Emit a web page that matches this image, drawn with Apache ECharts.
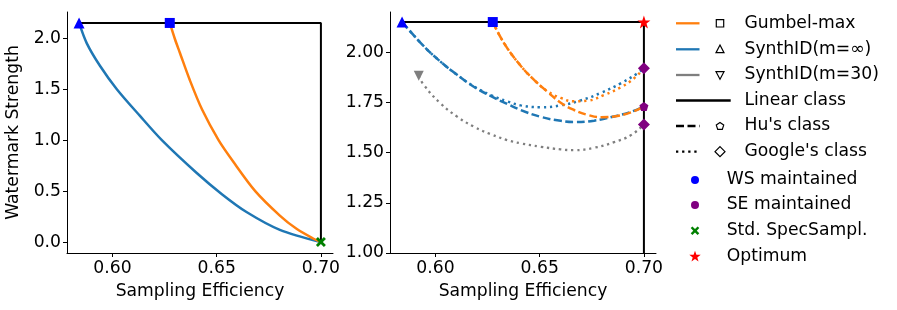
<!DOCTYPE html>
<html><head><meta charset="utf-8">
<script src="https://cdn.jsdelivr.net/npm/echarts@6/dist/echarts.min.js"></script>
<style>html,body{margin:0;padding:0;background:#fff}#c{width:897px;height:310px}</style>
</head><body><div id="c"></div>
<script>
// ---------- data ----------
const xTicks = [0.60, 0.65, 0.70];
const yTicksLeft = [0, 0.5, 1.0, 1.5, 2.0];
const yTicksRight = [1.00, 1.25, 1.50, 1.75, 2.00];

const linearClass = [[0.584, 2.15], [0.70, 2.15], [0.70, 0]];

const leftSynthID = [[0.584,2.15],[0.5877,1.95],[0.594,1.73],[0.6021,1.50],[0.6131,1.24],[0.6237,1.00],[0.6403,0.68],[0.6525,0.47],[0.6643,0.295],[0.6803,0.12],[0.70,0]];
const leftGumbel = [[0.6275,2.15],[0.6300,1.99],[0.6323,1.86],[0.6371,1.59],[0.6430,1.30],[0.6509,1.00],[0.6579,0.79],[0.6685,0.50],[0.6803,0.26],[0.6883,0.13],[0.6963,0.035],[0.70,0]];

const huSynthID = [[0.584,2.15],[0.5944,2.03],[0.6024,1.953],[0.6104,1.887],[0.6184,1.828],[0.6264,1.782],[0.6345,1.742],[0.6409,1.712],[0.6505,1.678],[0.6601,1.658],[0.6665,1.652],[0.6761,1.659],[0.6857,1.680],[0.6938,1.703],[0.70,1.73]];
const googleSynthID = [[0.584,2.15],[0.5944,2.03],[0.6024,1.953],[0.6104,1.887],[0.6184,1.830],[0.6264,1.787],[0.6345,1.755],[0.6409,1.735],[0.6505,1.726],[0.6601,1.735],[0.6697,1.760],[0.6793,1.797],[0.6889,1.845],[0.697,1.895],[0.70,1.92]];
const huGumbel = [[0.6275,2.15],[0.6329,2.045],[0.6405,1.937],[0.6473,1.862],[0.6537,1.803],[0.6601,1.748],[0.6665,1.712],[0.6729,1.688],[0.6793,1.676],[0.6857,1.680],[0.6938,1.700],[0.70,1.73]];
const googleGumbel = [[0.6275,2.15],[0.6329,2.045],[0.6405,1.937],[0.6473,1.862],[0.6537,1.806],[0.6601,1.772],[0.6665,1.755],[0.6729,1.758],[0.6809,1.787],[0.6889,1.825],[0.6953,1.870],[0.70,1.92]];
const googleSynthID30 = [[0.592,1.882],[0.5944,1.837],[0.6024,1.745],[0.6104,1.679],[0.6184,1.629],[0.6264,1.592],[0.6345,1.562],[0.6409,1.546],[0.6505,1.529],[0.6601,1.516],[0.6665,1.512],[0.6761,1.524],[0.6857,1.552],[0.6938,1.587],[0.70,1.64]];

const wsSynthID = [[0.584, 2.15]];
const wsGumbel = [[0.6275, 2.15]];
const wsSynthID30 = [[0.592, 1.882]];
const seGoogle = [[0.70, 1.92], [0.70, 1.64]];
const seHu = [[0.70, 1.73]];
const stdSpecSampl = [[0.70, 0]];
const optimum = [[0.70, 2.15]];

const legendLines = ['Gumbel-max', 'SynthID(m=\u221e)', 'SynthID(m=30)', 'Linear class', "Hu's class", "Google's class"];
const legendDots = ['WS maintained', 'SE maintained', 'Std. SpecSampl.', 'Optimum'];

// ---------- style ----------
const C = {orange:'#ff7f0e', blue:'#1f77b4', gray:'#7f7f7f', pureBlue:'#0000ff', purple:'#800080', green:'#008000', red:'#ff0000'};
const FONT = 'DejaVu Sans';
const FS = 17.2;

function polyPath(pts){ return 'path://' + pts.map((p,i)=>(i?'L':'M')+p[0].toFixed(3)+','+p[1].toFixed(3)).join(' ') + ' Z'; }
function starPts(cx,cy,R,r){ const a=[]; for(let i=0;i<10;i++){const ang=-Math.PI/2+i*Math.PI/5; const rr=i%2?r:R; a.push([cx+rr*Math.cos(ang), cy+rr*Math.sin(ang)]);} return a; }
function pentPts(cx,cy,R){ const a=[]; for(let i=0;i<5;i++){const ang=-Math.PI/2+i*2*Math.PI/5; a.push([cx+R*Math.cos(ang), cy+R*Math.sin(ang)]);} return a; }
function xPts(cx,cy,s){ const u=s; return [[-1,-0.6],[-0.6,-1],[0,-0.4],[0.6,-1],[1,-0.6],[0.4,0],[1,0.6],[0.6,1],[0,0.4],[-0.6,1],[-1,0.6],[-0.4,0]].map(p=>[cx+p[0]*u, cy+p[1]*u]); }
const STAR = polyPath(starPts(0,0,1,0.4));
const PENT = polyPath(pentPts(0,0,1));
const XMARK = polyPath(xPts(0,0,1));

function xAxisDef(gi){
  return {type:'value', gridIndex:gi, min:0.5782, max:0.7058,
    name:'Sampling Efficiency', nameLocation:'middle', nameGap:30,
    nameTextStyle:{fontFamily:FONT, fontSize:FS, color:'#000'},
    axisLine:{show:true, onZero:false, lineStyle:{color:'#000', width:1}},
    axisTick:{show:true, length:4, customValues:xTicks, lineStyle:{color:'#000'}},
    axisLabel:{customValues:xTicks, margin:7, fontFamily:FONT, fontSize:FS, color:'#000', formatter:v=>v.toFixed(2)},
    splitLine:{show:false}};
}
function yAxisDef(gi, min, max, ticks, dec, name){
  return {type:'value', gridIndex:gi, min:min, max:max,
    name:name||'', nameLocation:'middle', nameGap:45,
    nameTextStyle:{fontFamily:FONT, fontSize:FS, color:'#000'},
    axisLine:{show:true, onZero:false, lineStyle:{color:'#000', width:1}},
    axisTick:{show:true, length:4, customValues:ticks, lineStyle:{color:'#000'}},
    axisLabel:{customValues:ticks, margin:6, fontFamily:FONT, fontSize:FS, color:'#000', formatter:v=>v.toFixed(dec)},
    splitLine:{show:false}};
}
function line(gi, data, color, type, width, z, sm){
  return {type:'line', xAxisIndex:gi, yAxisIndex:gi, data:data, showSymbol:false, symbol:'none',
    smooth:sm||0.45, clip:true, z:z||2,
    lineStyle:{color:color, width:width||2.3, type:type||'solid', cap:'butt'}, silent:true};
}
function straight(gi, data, color, width, z){
  return {type:'line', xAxisIndex:gi, yAxisIndex:gi, data:data, showSymbol:false, symbol:'none',
    smooth:false, clip:true, z:z||1, lineStyle:{color:color, width:width, type:'solid'}, silent:true};
}
function pts(gi, data, symbol, size, color, rot, z){
  return {type:'scatter', xAxisIndex:gi, yAxisIndex:gi, data:data, symbol:symbol, symbolSize:size,
    symbolRotate:rot||0, itemStyle:{color:color, opacity:1}, z:z||10, silent:true, clip:false};
}
const DASH = [8, 3.5];
const DOT = [2.3, 3.8];

// ---------- legend (graphic) ----------
const g = [];
const rowY = [23.3, 49.3, 75, 100.5, 126, 151.7, 180, 205, 230.7, 256.7];
const lineX0 = 676, lineX1 = 699.5, mkX = 720, textX = 744.5;
function gText(x,y,t){ g.push({type:'text', x:x, y:y, style:{text:t, fontFamily:FONT, fontSize:FS, fill:'#000', verticalAlign:'middle', textAlign:'left'}}); }
function gLine(x0,x1,y,color,dash){ g.push({type:'line', shape:{x1:x0,y1:y,x2:x1,y2:y}, style:{stroke:color, lineWidth:2.3, lineDash:dash||null, lineCap:'butt'}}); }
function gPoly(points, fill, stroke){ g.push({type:'polygon', shape:{points:points}, style:{fill:fill, stroke:stroke||null, lineWidth:1.2}}); }
gLine(lineX0,lineX1,rowY[0],C.orange); gPoly([[mkX-3.7,rowY[0]-3.7],[mkX+3.7,rowY[0]-3.7],[mkX+3.7,rowY[0]+3.7],[mkX-3.7,rowY[0]+3.7]],'none','#000'); gText(textX,rowY[0],legendLines[0]);
gLine(lineX0,lineX1,rowY[1],C.blue); gPoly([[mkX,rowY[1]-4.3],[mkX+4,rowY[1]+3.3],[mkX-4,rowY[1]+3.3]],'none','#000'); gText(textX,rowY[1],legendLines[1]);
gLine(lineX0,lineX1,rowY[2],C.gray); gPoly([[mkX,rowY[2]+4.3],[mkX+4,rowY[2]-3.3],[mkX-4,rowY[2]-3.3]],'none','#000'); gText(textX,rowY[2],legendLines[2]);
gLine(lineX0,730.7,rowY[3],'#000'); gText(textX,rowY[3],legendLines[3]);
gLine(lineX0,lineX1,rowY[4],'#000',[8,3.5]); gPoly(pentPts(mkX,rowY[4]+0.3,3.9),'none','#000'); gText(textX,rowY[4],legendLines[4]);
gLine(lineX0,lineX1,rowY[5],'#000',[2.3,3.8]); gPoly([[mkX,rowY[5]-5],[mkX+5,rowY[5]],[mkX,rowY[5]+5],[mkX-5,rowY[5]]],'none','#000'); gText(textX,rowY[5],legendLines[5]);
const dotX = 695, dotTextX = 726.7;
g.push({type:'circle', shape:{cx:dotX, cy:rowY[6], r:4}, style:{fill:C.pureBlue}}); gText(dotTextX,rowY[6],legendDots[0]);
g.push({type:'circle', shape:{cx:dotX, cy:rowY[7], r:4}, style:{fill:C.purple}}); gText(dotTextX,rowY[7],legendDots[1]);
gPoly(xPts(dotX,rowY[8],4.3),C.green); gText(dotTextX,rowY[8],legendDots[2]);
gPoly(starPts(dotX,rowY[9],6,2.4),C.red); gText(dotTextX,rowY[9],legendDots[3]);

// ---------- chart ----------
const chart = echarts.init(document.getElementById('c'), null, {renderer:'canvas'});
chart.setOption({
  animation:false,
  backgroundColor:'#fff',
  grid:[{left:67, top:12, width:266, height:241}, {left:390, top:12, width:266, height:241}],
  xAxis:[xAxisDef(0), xAxisDef(1)],
  yAxis:[yAxisDef(0, -0.1075, 2.2575, yTicksLeft, 1, 'Watermark Strength'), yAxisDef(1, 1.0, 2.2, yTicksRight, 2)],
  series:[
    straight(0, linearClass, '#000', 2, 1),
    line(0, leftSynthID, C.blue, 'solid', 2.5, 3, 0.3),
    line(0, leftGumbel, C.orange, 'solid', 2.5, 3, 0.3),
    pts(0, wsSynthID, 'triangle', 11, C.pureBlue),
    pts(0, wsGumbel, 'rect', 10, C.pureBlue),
    pts(0, stdSpecSampl, XMARK, 10, C.green),

    straight(1, linearClass, '#000', 2, 1),
    line(1, googleSynthID30, C.gray, DOT, 2.3, 2),
    line(1, huSynthID, C.blue, DASH, 2.5, 3),
    line(1, googleSynthID, C.blue, DOT, 2.5, 3),
    line(1, huGumbel, C.orange, DASH, 2.5, 4),
    line(1, googleGumbel, C.orange, DOT, 2.5, 4),
    pts(1, wsSynthID, 'triangle', 11, C.pureBlue),
    pts(1, wsGumbel, 'rect', 10, C.pureBlue),
    pts(1, wsSynthID30, 'triangle', 10, C.gray, 180),
    pts(1, seGoogle, 'diamond', 12, C.purple),
    pts(1, seHu, PENT, 9, C.purple),
    pts(1, optimum, STAR, 13, C.red)
  ],
  graphic: g
});
</script>
</body></html>
